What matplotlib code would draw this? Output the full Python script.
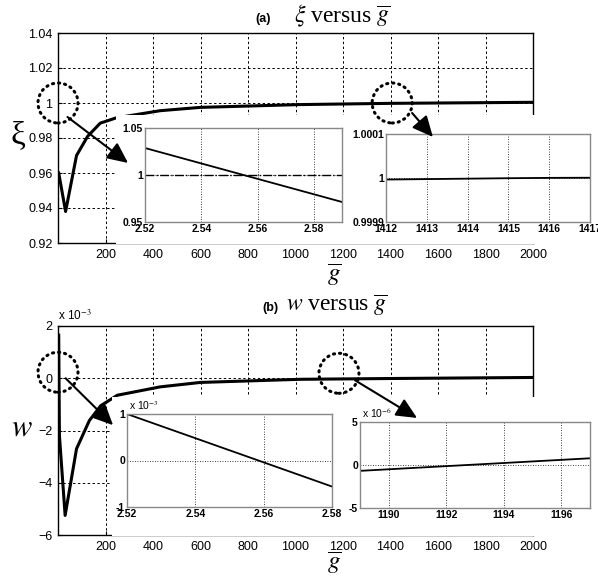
import matplotlib
matplotlib.use('Agg')
import matplotlib.pyplot as plt
import matplotlib.patches as mpatches
import matplotlib.transforms as mtransforms
import numpy as np

plt.rcParams['font.family'] = 'Liberation Sans'
plt.rcParams['mathtext.fontset'] = 'stix'

# (a) xi versus g_bar, main curve
g_a = [3, 32, 78, 125, 178, 245, 430, 600, 1020, 1400, 1900, 2000]
xi_a = [0.960, 0.938, 0.970, 0.981, 0.9885, 0.9915, 0.9956, 0.9975, 0.9991, 0.9998, 1.0003, 1.0004]

# (a) zoom near g = 2.52
g_a1 = [2.52, 2.59]
xi_a1 = [1.0287, 0.9713]

# (a) zoom near g = 1412
g_a2 = [1412, 1413, 1414, 1415, 1416, 1417]
xi_a2 = [0.9999965, 0.9999975, 0.9999985, 0.9999995, 1.0000003, 1.0000006]

# (b) w versus g_bar, main curve (x 1e-3)
g_b = [3, 6, 30, 78, 132, 180, 250, 430, 600, 1020, 1400, 2000]
w_b = [1.65, -2.2, -5.25, -2.7, -1.62, -1.05, -0.65, -0.33, -0.16, -0.04, -0.01, 0.03]

# (b) zoom near g = 2.52 (x 1e-3)
g_b1 = [2.52, 2.58]
w_b1 = [1.0, -0.56]

# (b) zoom near g = 1190 (x 1e-6)
g_b2 = [1189, 1197]
w_b2 = [-0.68, 0.78]

W, H = 598, 577
fig = plt.figure(figsize=(W / 100, H / 100), dpi=100)


def box(l, t, r, b):
    return [l / W, 1 - b / H, (r - l) / W, (b - t) / H]


def main_style(ax):
    ax.grid(True, color='k', ls=(0, (2.5, 2.5)), lw=0.7)
    ax.tick_params(direction='in', length=3, labelsize=9, pad=4)
    for s in ax.spines.values():
        s.set_linewidth(1.0)


def inset_style(ax):
    ax.set_zorder(2)
    ax.grid(True, color='k', ls=(0, (1, 2)), lw=0.6)
    ax.tick_params(direction='in', length=0, labelsize=7.5, pad=1.5)
    for lab in ax.get_xticklabels() + ax.get_yticklabels():
        lab.set_fontweight('bold')
    for s in ax.spines.values():
        s.set_color('#888888')
        s.set_linewidth(1.0)


# ---- panel (a)
ax_a = fig.add_axes(box(58, 33, 533, 243))
ax_a.plot(g_a, xi_a, 'k-', lw=2.2)
ax_a.set_xlim(0, 2000)
ax_a.set_ylim(0.92, 1.04)
ax_a.set_xticks(range(200, 2001, 200))
ax_a.set_yticks([0.92, 0.94, 0.96, 0.98, 1.0, 1.02, 1.04])
ax_a.set_yticklabels(['0.92', '0.94', '0.96', '0.98', '1', '1.02', '1.04'])
main_style(ax_a)

ax_a1 = fig.add_axes(box(145, 128, 342, 222))
ax_a1.plot(g_a1, xi_a1, 'k-', lw=1.3)
ax_a1.axhline(1.0, color='k', ls='-.', lw=1.0)
ax_a1.set_xlim(2.52, 2.59)
ax_a1.set_ylim(0.95, 1.05)
ax_a1.set_xticks([2.52, 2.54, 2.56, 2.58])
ax_a1.set_xticklabels(['2.52', '2.54', '2.56', '2.58'])
ax_a1.set_yticks([0.95, 1.0, 1.05])
ax_a1.set_yticklabels(['0.95', '1', '1.05'])
inset_style(ax_a1)

ax_a2 = fig.add_axes(box(386, 134, 590, 222))
ax_a2.plot(g_a2, xi_a2, 'k-', lw=1.3)
ax_a2.set_xlim(1412, 1417)
ax_a2.set_ylim(0.9999, 1.0001)
ax_a2.set_xticks(range(1412, 1418))
ax_a2.set_xticklabels([str(v) for v in range(1412, 1418)])
ax_a2.set_yticks([0.9999, 1.0, 1.0001])
ax_a2.set_yticklabels(['0.9999', '1', '1.0001'])
inset_style(ax_a2)

# ---- panel (b)
ax_b = fig.add_axes(box(58, 326, 533, 535))
ax_b.plot(g_b, w_b, 'k-', lw=2.2)
ax_b.set_xlim(0, 2000)
ax_b.set_ylim(-6, 2)
ax_b.set_xticks(range(200, 2001, 200))
ax_b.set_yticks([-6, -4, -2, 0, 2])
main_style(ax_b)
ax_b.text(0.0, 1.012, r'x 10$^{-3}$', transform=ax_b.transAxes, fontsize=8.5, va='bottom')

ax_b1 = fig.add_axes(box(127, 414, 332, 507))
ax_b1.plot(g_b1, w_b1, 'k-', lw=1.3)
ax_b1.set_xlim(2.52, 2.58)
ax_b1.set_ylim(-1, 1)
ax_b1.set_xticks([2.52, 2.54, 2.56, 2.58])
ax_b1.set_xticklabels(['2.52', '2.54', '2.56', '2.58'])
ax_b1.set_yticks([-1, 0, 1])
ax_b1.set_yticklabels(['-1', '0', '1'])
inset_style(ax_b1)
ax_b1.text(0.01, 1.02, r'x 10$^{-3}$', transform=ax_b1.transAxes, fontsize=7.5, va='bottom')

ax_b2 = fig.add_axes(box(360, 422, 590, 508))
ax_b2.plot(g_b2, w_b2, 'k-', lw=1.3)
ax_b2.set_xlim(1189, 1197)
ax_b2.set_ylim(-5, 5)
ax_b2.set_xticks([1190, 1192, 1194, 1196])
ax_b2.set_xticklabels(['1190', '1192', '1194', '1196'])
ax_b2.set_yticks([-5, 0, 5])
ax_b2.set_yticklabels(['-5', '0', '5'])
inset_style(ax_b2)
ax_b2.text(0.01, 1.02, r'x 10$^{-6}$', transform=ax_b2.transAxes, fontsize=7.5, va='bottom')

# white background of the pasted insets hides part of the main axes
for (l, t, r, b) in [(116, 115, 598, 244), (112, 397, 598, 536)]:
    fig.add_artist(mpatches.Rectangle((l / W, 1 - b / H), (r - l) / W, (b - t) / H,
                                      transform=fig.transFigure, facecolor='white',
                                      edgecolor='none', zorder=1))

# dotted circles and arrows
circles = [(ax_a, 0, 1.0), (ax_a, 1407, 1.0), (ax_b, 0, 0.23), (ax_b, 1183, 0.19)]
arrow_tails = [(40, 0.992), (1491, 0.9943), (32, 0.0), (1251, -0.08)]
arrow_heads = [(ax_a1, -0.086, 0.628), (ax_a2, 0.23, 0.966), (ax_b1, -0.068, 0.88), (ax_b2, 0.248, 1.047)]

for (ax, cx, cy) in circles:
    tr = (mtransforms.Affine2D().scale(0.2) + fig.dpi_scale_trans
          + mtransforms.ScaledTranslation(cx, cy, ax.transData))
    c = mpatches.Circle((0, 0), 1, transform=tr, fill=False, edgecolor='k',
                        lw=2.2, ls=(0, (0.4, 1.6)), capstyle='round', zorder=5)
    fig.add_artist(c)

for (ax, _, _), (tx, ty), (iax, hx, hy) in zip(circles, arrow_tails, arrow_heads):
    con = mpatches.ConnectionPatch(xyA=(tx, ty), coordsA=ax.transData,
                                   xyB=(hx, hy), coordsB=iax.transAxes,
                                   arrowstyle='-|>,head_length=0.9,head_width=0.42',
                                   mutation_scale=14, lw=1.5, color='k',
                                   shrinkA=0, shrinkB=0, zorder=6)
    fig.add_artist(con)

# titles and axis labels
fig.text(263 / W, 1 - 22 / H, '(a)', fontsize=9, fontweight='bold', ha='center', va='baseline')
fig.text(294 / W, 1 - 22 / H, r'$\xi$ versus $\overline{g}$', fontsize=17,
         family='Liberation Serif', va='baseline')
fig.text(270 / W, 1 - 311 / H, '(b)', fontsize=9, fontweight='bold', ha='center', va='baseline')
fig.text(286 / W, 1 - 311 / H, r'$w$ versus $\overline{g}$', fontsize=17,
         family='Liberation Serif', va='baseline')

fig.text(18 / W, 1 - 136 / H, 'ξ', fontsize=24, family='Liberation Serif', ha='center', va='center')
fig.text(22 / W, 1 - 428 / H, r'$w$', fontsize=22, ha='center', va='center')
fig.text(334 / W, 1 - 275 / H, r'$\overline{g}$', fontsize=18, ha='center', va='center')
fig.text(334 / W, 1 - 563 / H, r'$\overline{g}$', fontsize=18, ha='center', va='center')

fig.savefig('out.png', dpi=100)
